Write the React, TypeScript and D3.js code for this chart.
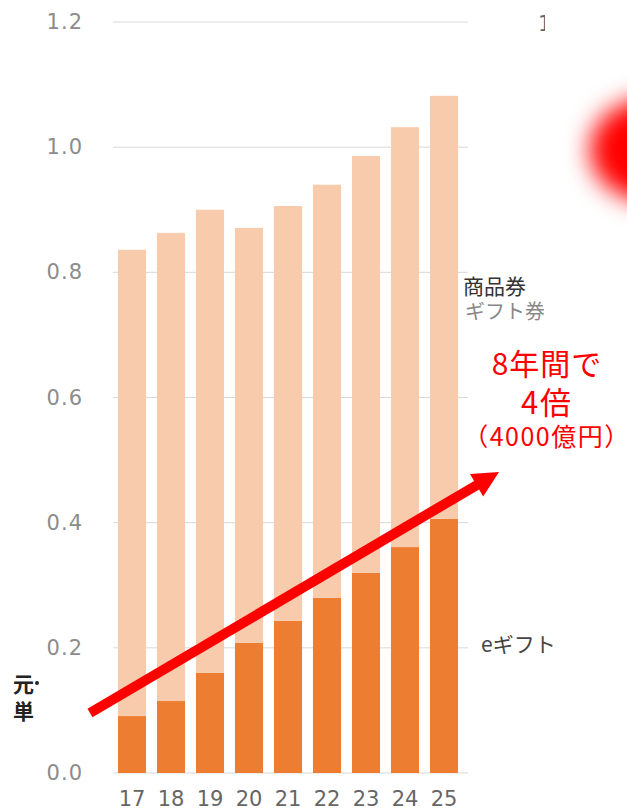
import * as d3 from 'd3';
import React from 'react';

// years (20xx)
const years = ['17', '18', '19', '20', '21', '22', '23', '24', '25'];
// eギフト (dark)
const eGift = [0.091, 0.115, 0.16, 0.208, 0.243, 0.28, 0.32, 0.361, 0.406];
// 商品券・ギフト券 (light, stacked on top)
const paper = [0.745, 0.748, 0.74, 0.663, 0.663, 0.66, 0.666, 0.671, 0.676];
const yTicks = [0, 0.2, 0.4, 0.6, 0.8, 1.0, 1.2];

const W = 627;
const H = 811;
const jp = '"Noto Sans CJK JP", "Noto Sans", sans-serif';
const num = '"DejaVu Sans", Verdana, sans-serif';

export default function App() {
  const x = d3.scaleBand().domain(years).range([112.5, 463.5]).paddingInner(0.28).paddingOuter(0.14);
  const y = d3.scaleLinear().domain([0, 1.2]).range([773, 22]);

  const rows = years.map((yr, i) => ({ year: yr, egift: eGift[i], paper: paper[i] }));
  const series = d3.stack<any>().keys(['egift', 'paper'])(rows);
  const colors: Record<string, string> = { egift: '#ED7D31', paper: '#F8CBAD' };

  // arrow annotation
  const a0 = [90, 713];
  const a1 = [499, 472];
  const len = Math.hypot(a1[0] - a0[0], a1[1] - a0[1]);
  const ux = (a1[0] - a0[0]) / len;
  const uy = (a1[1] - a0[1]) / len;
  const headLen = 26;
  const headHalf = 13;
  const bx = a1[0] - ux * headLen;
  const by = a1[1] - uy * headLen;
  const head = [
    [a1[0], a1[1]],
    [bx - uy * headHalf, by + ux * headHalf],
    [bx + uy * headHalf, by - ux * headHalf],
  ];

  return (
    <svg width={W} height={H} style={{ position: 'absolute', left: 0, top: 0, background: '#fff' }}>
      <defs>
        <filter id="blur" x="-50%" y="-50%" width="200%" height="200%">
          <feGaussianBlur stdDeviation="12" />
        </filter>
        <clipPath id="cutLabel">
          <rect x={0} y={0} width={544} height={H} />
        </clipPath>
        <clipPath id="cutOne">
          <rect x={0} y={0} width={545} height={H} />
        </clipPath>
      </defs>

      {/* gridlines */}
      <g>
        {yTicks.map((t) => (
          <line key={t} x1={113} x2={468} y1={y(t)} y2={y(t)} stroke="#d9d9d9" strokeWidth={1} />
        ))}
      </g>

      {/* y tick labels */}
      <g fontFamily={num} fontSize={21} fill="#8c8c8c" textAnchor="end" letterSpacing={1}>
        {yTicks.map((t) => (
          <text key={t} x={83} y={y(t)} dominantBaseline="central">
            {d3.format('.1f')(t)}
          </text>
        ))}
      </g>

      {/* bars */}
      {series.map((s) => (
        <g key={s.key} fill={colors[s.key]}>
          {s.map((d: any) => (
            <rect
              key={d.data.year}
              x={x(d.data.year)}
              y={y(d[1])}
              width={x.bandwidth()}
              height={y(d[0]) - y(d[1])}
            />
          ))}
        </g>
      ))}

      {/* x tick labels */}
      <g fontFamily={num} fontSize={21} fill="#666" textAnchor="middle">
        {years.map((yr) => (
          <text key={yr} x={(x(yr) as number) + x.bandwidth() / 2} y={806}>
            {yr}
          </text>
        ))}
      </g>

      {/* cut-off secondary axis label */}
      <text x={538} y={31} fontFamily={num} fontSize={21} fill="#666" clipPath="url(#cutOne)">
        1
      </text>

      {/* series labels */}
      <text x={463} y={294} fontFamily={jp} fontSize={21} fill="#333">
        商品券
      </text>
      <text x={465} y={319} fontFamily={jp} fontSize={20} fill="#888" clipPath="url(#cutLabel)">
        ギフト券
      </text>
      <text x={481} y={652} fontFamily={jp} fontSize={21} fill="#444">
        eギフト
      </text>

      {/* cut-off unit label on the left */}
      <g fontFamily={jp} fontSize={21} fill="#222" fontWeight={700} textAnchor="end">
        <text x={34} y={692}>元</text>
        <text x={34} y={719}>単</text>
      </g>
      <circle cx={37} cy={683} r={2} fill="#222" />
      <rect x={0} y={640} width={13} height={100} fill="#fff" />

      {/* red blob */}
      <ellipse cx={652} cy={150} rx={62} ry={52} fill="#ff0000" filter="url(#blur)" />

      {/* arrow */}
      <line x1={a0[0]} y1={a0[1]} x2={bx + ux * 2} y2={by + uy * 2} stroke="#ff0000" strokeWidth={10} />
      <polygon points={head.map((p) => p.join(',')).join(' ')} fill="#ff0000" />

      {/* annotation */}
      <g fontFamily={jp} fill="#ff0000" textAnchor="middle">
        <text x={547} y={375} fontSize={30} letterSpacing={1}>8年間で</text>
        <text x={547} y={414} fontSize={31} letterSpacing={2}>4倍</text>
        <text x={547} y={446} fontSize={25} letterSpacing={1.5}>（4000億円）</text>
      </g>
    </svg>
  );
}
